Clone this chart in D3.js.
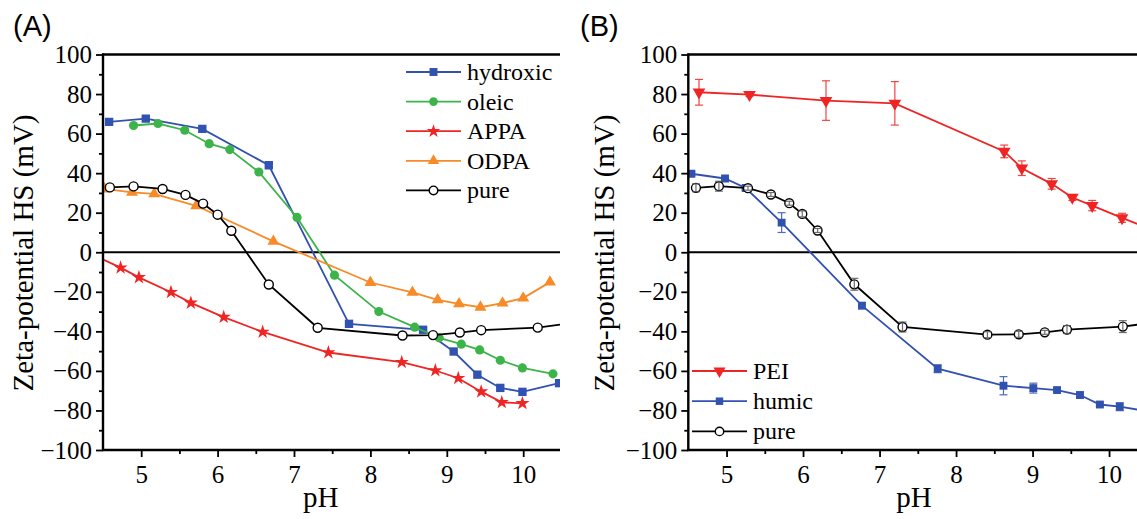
<!DOCTYPE html>
<html><head><meta charset="utf-8">
<script src="https://cdn.jsdelivr.net/npm/d3@7"></script>
<style>
html,body{margin:0;padding:0;background:#fff;}
svg{display:block;}
</style></head>
<body>
<svg id="chart" width="1137" height="519"></svg>
<script>
// ---------- DATA ----------
// Panel A
const phHydroxic = [4.58,5.06,5.80,6.67,7.72,8.69,9.09,9.40,9.70,9.99,10.47];
const zHydroxic  = [65.9,67.6,62.4,44.0,-36.2,-39.2,-50.2,-61.9,-68.6,-70.6,-66.2];
const phOleic = [4.90,5.22,5.57,5.89,6.16,6.54,7.04,7.53,8.11,8.58,8.90,9.19,9.43,9.70,9.99,10.39];
const zOleic  = [64.1,65.1,61.7,54.9,51.9,40.6,17.6,-11.6,-30.0,-37.9,-43.3,-46.5,-49.4,-54.6,-58.5,-61.5];
const phAPPA = [4.42,4.73,4.97,5.39,5.65,6.08,6.59,7.45,8.41,8.85,9.15,9.45,9.72,9.99];
const zAPPA  = [-2.2,-7.8,-12.7,-20.2,-25.6,-32.8,-40.3,-50.7,-55.6,-59.8,-63.7,-70.5,-75.9,-76.4];
const phODPA = [4.52,4.88,5.17,5.72,6.73,8.00,8.55,8.88,9.16,9.44,9.73,10.00,10.35];
const zODPA  = [32.0,30.3,29.5,23.5,5.5,-15.3,-20.3,-24.1,-26.1,-27.8,-25.7,-23.2,-15.1];
const phPureA = [4.59,4.90,5.28,5.58,5.81,6.00,6.18,6.67,7.31,8.42,8.82,9.17,9.45,10.19,10.60];
const zPureA  = [32.8,33.3,32.0,29.0,24.6,19.0,10.9,-16.3,-38.2,-42.1,-41.9,-40.6,-39.4,-38.1,-36.0];
// Panel B
const phPEI = [4.64,5.30,6.30,7.20,8.63,8.86,9.25,9.52,9.78,10.17,10.55];
const zPEI  = [80.9,79.7,76.7,75.3,51.0,42.5,34.6,27.7,23.6,17.4,11.5];
const ePEI  = [6.5,1.0,10.0,11.0,3.2,3.7,2.7,1.5,2.6,2.3,2.0];
const phHumic = [4.54,4.98,5.25,5.72,6.77,7.76,8.62,9.01,9.32,9.62,9.88,10.14,10.60];
const zHumic  = [39.7,37.3,32.5,15.0,-27.0,-58.9,-67.5,-68.7,-69.7,-72.2,-77.0,-78.1,-81.0];
const eHumic  = [1.0,1.0,1.0,5.0,1.5,2.0,4.6,2.5,1.0,1.5,1.0,2.0,1.0];
const phPureB = [4.60,4.90,5.28,5.58,5.82,5.99,6.19,6.67,7.30,8.41,8.82,9.16,9.45,10.18,10.50];
const zPureB  = [32.6,33.4,32.4,29.2,24.8,19.4,11.0,-16.2,-37.8,-41.7,-41.5,-40.5,-39.1,-37.6,-36.0];
const ePureB  = [2.0,2.5,1.0,1.0,1.0,1.5,1.0,3.0,2.5,1.5,1.5,1.0,2.0,3.0,2.0];

const xMajorTicks = [5,6,7,8,9,10];
const xMinorTicks = [5.5,6.5,7.5,8.5,9.5,10.5];
const yMajorTicks = [-100,-80,-60,-40,-20,0,20,40,60,80,100];
const yMinorTicks = [-90,-70,-50,-30,-10,10,30,50,70,90];
const legendA = ["hydroxic","oleic","APPA","ODPA","pure"];
const legendB = ["PEI","humic","pure"];
const yTitle = "Zeta-potential HS (mV)";
const xTitle = "pH";

// ---------- STYLE ----------
const C = {blue:"#3152b0", green:"#3cb44a", red:"#ee2524", orange:"#f68b28", black:"#000"};
const SERIF = "Liberation Serif";
const SANS = "Liberation Sans";

const svg = d3.select("#chart");

function symPath(kind, size){
  const map = {square:d3.symbolSquare, circle:d3.symbolCircle, star:d3.symbolStar, tri:d3.symbolTriangle, tridown:d3.symbolTriangle};
  return d3.symbol().type(map[kind]).size(size)();
}

function drawPanel(cfg){
  const g = svg.append("g");
  const x = d3.scaleLinear().domain([4.5,10.5]).range([cfg.x0, cfg.x0 + 6*cfg.unit]);
  const y = d3.scaleLinear().domain([-100,100]).range([450, 54.5]);
  const id = "clip"+cfg.name;
  g.append("clipPath").attr("id", id).append("rect")
    .attr("x", x(4.5)).attr("y", y(100)).attr("width", cfg.clipR - x(4.5)).attr("height", y(-100)-y(100));
  const outerId = "oclip"+cfg.name;
  g.append("clipPath").attr("id", outerId).append("rect")
    .attr("x", 0).attr("y", 0).attr("width", cfg.clipR).attr("height", 519);

  g.append("line").attr("x1", x(4.5)).attr("x2", x(10.5)).attr("y1", y(0)).attr("y2", y(0))
    .attr("stroke","#000").attr("stroke-width",2).attr("clip-path",`url(#${outerId})`);

  const data = g.append("g").attr("clip-path", `url(#${id})`);
  const line = d3.line().x(d=>x(d[0])).y(d=>y(d[1]));
  cfg.series.forEach(s=>{
    const pts = s.ph.map((p,i)=>[p, s.z[i], s.e ? s.e[i] : 0]);
    data.append("path").datum(pts).attr("d", line).attr("fill","none")
      .attr("stroke", s.color).attr("stroke-width", 1.8);
    data.selectAll(null).data(pts).enter().append("path")
      .attr("d", symPath(s.sym, s.size))
      .attr("transform", d=>`translate(${x(d[0])},${y(d[1])})` + (s.sym==="tridown"?" rotate(180)":""))
      .attr("fill", s.open ? "#fff" : s.color)
      .attr("stroke", s.open ? s.color : "none").attr("stroke-width", 1.4);
    if (s.e){
      const eb = data.append("g").attr("stroke", s.ecolor || s.color).attr("stroke-width",1.2).attr("opacity",0.85);
      pts.forEach(d=>{
        const cx = x(d[0]), yt = y(d[1]+d[2]), yb = y(d[1]-d[2]);
        eb.append("line").attr("x1",cx).attr("x2",cx).attr("y1",yt).attr("y2",yb);
        eb.append("line").attr("x1",cx-4).attr("x2",cx+4).attr("y1",yt).attr("y2",yt);
        eb.append("line").attr("x1",cx-4).attr("x2",cx+4).attr("y1",yb).attr("y2",yb);
      });
    }
  });

  const fmt = d3.format("d");
  const ax = g.append("g").attr("clip-path",`url(#${outerId})`);
  ax.append("g").attr("transform",`translate(${x(4.5)},0)`)
    .call(d3.axisLeft(y).tickValues(yMajorTicks).tickFormat(fmt).tickSize(7).tickPadding(4));
  ax.append("g").attr("transform",`translate(${x(4.5)},0)`)
    .call(d3.axisLeft(y).tickValues(yMinorTicks).tickSize(4).tickFormat(""));
  ax.append("g").attr("transform",`translate(0,${y(-100)})`)
    .call(d3.axisBottom(x).tickValues(xMajorTicks).tickFormat(fmt).tickSize(7).tickPadding(8));
  ax.append("g").attr("transform",`translate(0,${y(-100)})`)
    .call(d3.axisBottom(x).tickValues(xMinorTicks).tickSize(4).tickFormat(""));
  ax.selectAll(".domain").remove();
  ax.selectAll(".tick line").attr("stroke","#000").attr("stroke-width",1.8);
  ax.selectAll(".tick text").attr("font-family",SERIF).attr("font-size",25).attr("fill","#000");
  ax.append("line").attr("x1",x(4.5)).attr("x2",x(4.5)).attr("y1",y(100)-1).attr("y2",y(-100)+1).attr("stroke","#000").attr("stroke-width",2.4);
  ax.append("line").attr("x1",x(4.5)-1).attr("x2",x(10.5)).attr("y1",y(-100)).attr("y2",y(-100)).attr("stroke","#000").attr("stroke-width",2.4);
  ax.append("line").attr("x1",x(4.5)-1).attr("x2",x(10.5)).attr("y1",y(100)).attr("y2",y(100)).attr("stroke","#000").attr("stroke-width",2.4);

  g.append("text").attr("transform",`translate(${cfg.yTitleX},${cfg.yTitleY}) rotate(-90)`)
    .attr("text-anchor","middle").attr("font-family",SERIF).attr("font-size",29).text(yTitle);
  g.append("text").attr("x", x(cfg.xTitleAt)).attr("y", 507).attr("text-anchor","middle")
    .attr("font-family",SERIF).attr("font-size",29).text(xTitle);
  g.append("text").attr("x", cfg.labelX).attr("y", 36).attr("font-family",SANS).attr("font-size",29).text(cfg.label);

  const lg = g.append("g");
  cfg.series.forEach((s,i)=>{
    const ly = cfg.legY + i*cfg.legStep;
    const row = lg.append("g").attr("transform",`translate(${cfg.legX},${ly})`);
    row.append("line").attr("x1",0).attr("x2",55).attr("y1",0).attr("y2",0).attr("stroke",s.color).attr("stroke-width",1.8);
    row.append("path").attr("d",symPath(s.sym, s.size*0.9))
      .attr("transform",`translate(27.5,0)`+(s.sym==="tridown"?" rotate(180)":""))
      .attr("fill", s.open?"#fff":s.color).attr("stroke", s.open?s.color:"none").attr("stroke-width",1.4);
    row.append("text").attr("x",61).attr("y",8).attr("font-family",SERIF).attr("font-size",24).text(cfg.names[i]);
  });
}

drawPanel({
  name:"A", x0:103, unit:76.4, clipR:560, label:"(A)", labelX:13,
  yTitleX:33, yTitleY:253, xTitleAt:7.35,
  legX:406, legY:72, legStep:29.6, names:legendA,
  series:[
    {ph:phHydroxic, z:zHydroxic, color:C.blue, sym:"square", size:70},
    {ph:phOleic, z:zOleic, color:C.green, sym:"circle", size:66},
    {ph:phAPPA, z:zAPPA, color:C.red, sym:"star", size:62},
    {ph:phODPA, z:zODPA, color:C.orange, sym:"tri", size:62},
    {ph:phPureA, z:zPureA, color:C.black, sym:"circle", size:64, open:true}
  ]
});
drawPanel({
  name:"B", x0:688.3, unit:76.5, clipR:1137, label:"(B)", labelX:580,
  yTitleX:614, yTitleY:253, xTitleAt:7.45,
  legX:692, legY:371, legStep:30.2, names:legendB,
  series:[
    {ph:phPEI, z:zPEI, e:ePEI, color:C.red, sym:"tridown", size:70},
    {ph:phHumic, z:zHumic, e:eHumic, color:C.blue, sym:"square", size:62},
    {ph:phPureB, z:zPureB, e:ePureB, color:C.black, ecolor:"#555", sym:"circle", size:62, open:true}
  ]
});
</script>
</body></html>
